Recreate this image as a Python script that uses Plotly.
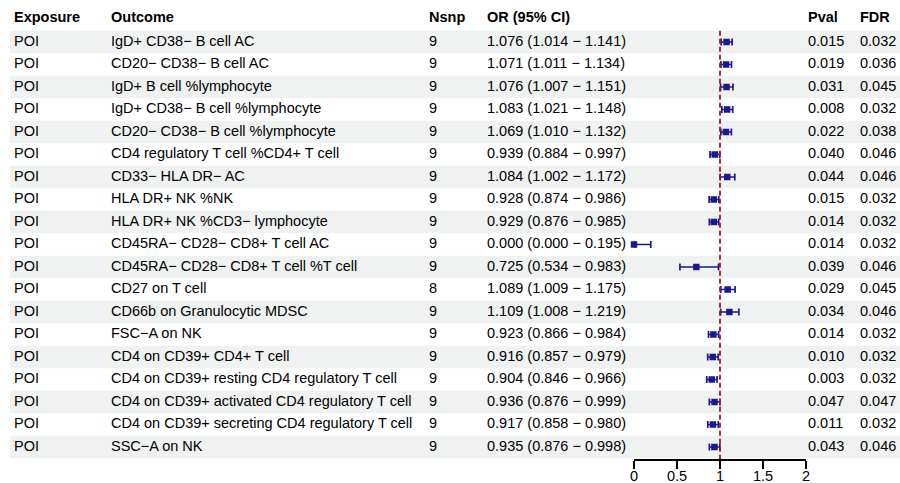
import plotly.graph_objects as go

exposure = ["POI"] * 19
outcome = [
    "IgD+ CD38− B cell AC",
    "CD20− CD38− B cell AC",
    "IgD+ B cell %lymphocyte",
    "IgD+ CD38− B cell %lymphocyte",
    "CD20− CD38− B cell %lymphocyte",
    "CD4 regulatory T cell %CD4+ T cell",
    "CD33− HLA DR− AC",
    "HLA DR+ NK %NK",
    "HLA DR+ NK %CD3− lymphocyte",
    "CD45RA− CD28− CD8+ T cell AC",
    "CD45RA− CD28− CD8+ T cell %T cell",
    "CD27 on T cell",
    "CD66b on Granulocytic MDSC",
    "FSC−A on NK",
    "CD4 on CD39+ CD4+ T cell",
    "CD4 on CD39+ resting CD4 regulatory T cell",
    "CD4 on CD39+ activated CD4 regulatory T cell",
    "CD4 on CD39+ secreting CD4 regulatory T cell",
    "SSC−A on NK",
]
nsnp = [9, 9, 9, 9, 9, 9, 9, 9, 9, 9, 9, 8, 9, 9, 9, 9, 9, 9, 9]
or_val = [1.076, 1.071, 1.076, 1.083, 1.069, 0.939, 1.084, 0.928, 0.929, 0.000,
          0.725, 1.089, 1.109, 0.923, 0.916, 0.904, 0.936, 0.917, 0.935]
ci_low = [1.014, 1.011, 1.007, 1.021, 1.010, 0.884, 1.002, 0.874, 0.876, 0.000,
          0.534, 1.009, 1.008, 0.866, 0.857, 0.846, 0.876, 0.858, 0.876]
ci_high = [1.141, 1.134, 1.151, 1.148, 1.132, 0.997, 1.172, 0.986, 0.985, 0.195,
           0.983, 1.175, 1.219, 0.984, 0.979, 0.966, 0.999, 0.980, 0.998]
pval = ["0.015", "0.019", "0.031", "0.008", "0.022", "0.040", "0.044", "0.015", "0.014", "0.014",
        "0.039", "0.029", "0.034", "0.014", "0.010", "0.003", "0.047", "0.011", "0.043"]
fdr = ["0.032", "0.036", "0.045", "0.032", "0.038", "0.046", "0.046", "0.032", "0.032", "0.032",
       "0.046", "0.045", "0.046", "0.032", "0.032", "0.032", "0.047", "0.032", "0.046"]
headers = ["Exposure", "Outcome", "Nsnp", "OR (95% CI)", "Pval", "FDR"]
x_ticks = [0, 0.5, 1, 1.5, 2]

n = len(outcome)
rows = list(range(1, n + 1))
or_text = [f"{o:.3f} ({l:.3f} − {h:.3f})" for o, l, h in zip(or_val, ci_low, ci_high)]

W, H = 900, 483
col_x = [14, 111, 429, 487, 808, 860]
FONT = "Liberation Sans, Arial, sans-serif"
TXT = dict(family=FONT, size=14.5, color="black")

fig = go.Figure()

# forest plot marks
fig.add_trace(go.Scatter(
    x=or_val, y=rows, mode="markers",
    marker=dict(symbol="square", size=6.5, color="#1a1a8a"),
    error_x=dict(type="data", symmetric=False,
                 array=[h - o for o, h in zip(or_val, ci_high)],
                 arrayminus=[o - l for o, l in zip(or_val, ci_low)],
                 color="#1a1a8a", thickness=1.7, width=3.5),
    xaxis="x", yaxis="y", showlegend=False, hoverinfo="skip", cliponaxis=False,
))

# text columns (full-width pixel-like axis x2)
columns = [exposure, outcome, [str(v) for v in nsnp], or_text, pval, fdr]
for cx, vals, hd in zip(col_x, columns, headers):
    fig.add_trace(go.Scatter(
        x=[cx] * (n + 1), y=[-0.07] + rows,
        text=[f"<b>{hd}</b>"] + list(vals),
        mode="text", textposition="middle right",
        textfont=TXT, xaxis="x2", yaxis="y",
        showlegend=False, hoverinfo="skip", cliponaxis=False,
    ))

shapes = []
for r in rows:
    if r % 2 == 1:
        shapes.append(dict(type="rect", xref="paper", yref="y", x0=10 / W, x1=1,
                           y0=r - 0.5, y1=r + 0.5, fillcolor="#eff2f1",
                           line=dict(width=0), layer="below"))
shapes.append(dict(type="line", xref="x", yref="y", x0=1, x1=1, y0=0.5, y1=n + 0.55,
                   line=dict(color="#a01822", width=1.8, dash="5px,3px"), layer="above"))

row_px0, row_h = 42, 22.5
axis_px = 459
y_top = 1 - row_px0 / row_h
y_bot = 1 + (axis_px - row_px0) / row_h

fig.update_layout(
    width=W, height=H,
    margin=dict(l=0, r=0, t=0, b=0, autoexpand=False),
    paper_bgcolor="white", plot_bgcolor="rgba(0,0,0,0)",
    shapes=shapes,
    xaxis=dict(domain=[634 / W, 806 / W], range=[0, 2], tickvals=x_ticks,
               ticktext=[f"{t:g}" for t in x_ticks], anchor="y", automargin=False,
               showline=True, linecolor="black", linewidth=1.5,
               ticks="outside", ticklen=8, tickwidth=1.5, tickcolor="black",
               ticklabelstandoff=-5,
               showgrid=False, zeroline=False, tickfont=TXT, fixedrange=True),
    xaxis2=dict(domain=[0, 1], range=[0, W], visible=False, anchor="y", automargin=False),
    yaxis=dict(domain=[(H - axis_px) / H, 1], range=[y_bot, y_top], visible=False,
               showgrid=False, zeroline=False, automargin=False),
    font=TXT,
)

fig.write_html("out.html", config={"displayModeBar": False},
               post_script="document.body.style.margin='0';")
